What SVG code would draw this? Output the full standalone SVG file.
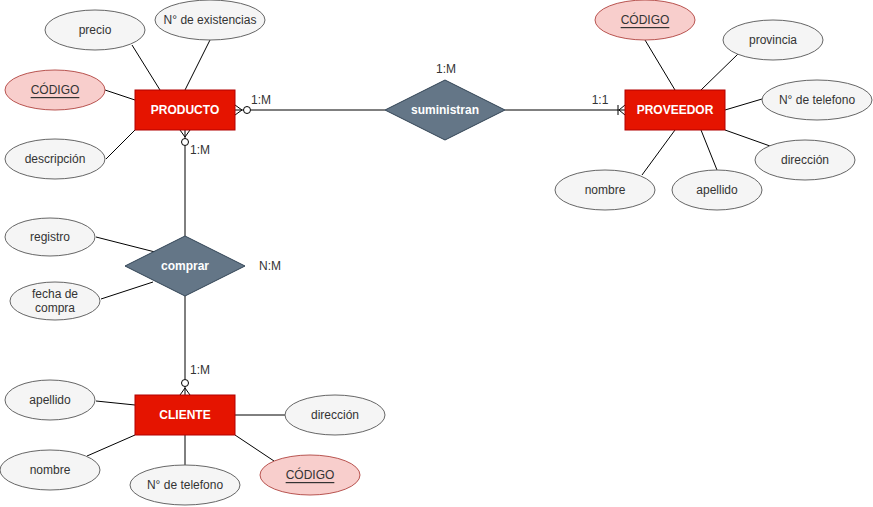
<svg xmlns="http://www.w3.org/2000/svg" width="873" height="507" viewBox="0 0 873 507">
  <style>
    text { font-family: "Liberation Sans", Arial, sans-serif; font-size: 12px; text-anchor: middle; dominant-baseline: central; }
    .ent rect { fill: #e51400; stroke: #b20000; stroke-width: 1; }
    .ent text { fill: #ffffff; font-weight: bold; }
    .rel polygon { fill: #647687; stroke: #314354; stroke-width: 1; }
    .rel text { fill: #ffffff; font-weight: bold; }
    .attr ellipse { fill: #f5f5f5; stroke: #666666; stroke-width: 1; }
    .attr text { fill: #333333; }
    .key ellipse { fill: #f8cecc; stroke: #b85450; stroke-width: 1; }
    .key text { fill: #333333; text-decoration: underline; }
    .edges line, .edges path { stroke: #000000; stroke-width: 1; fill: none; }
    .edges circle { fill: #ffffff; stroke: #000000; stroke-width: 1; }
    .card { fill: #333333; }
  </style>

  <!-- connectors -->
  <g id="connectors" class="edges">
    <!-- PRODUCTO attributes -->
    <line x1="132" y1="45" x2="160" y2="90"/>
    <line x1="210" y1="40" x2="185" y2="90"/>
    <line x1="105" y1="90" x2="135" y2="100"/>
    <line x1="106" y1="159" x2="135" y2="130"/>
    <!-- PRODUCTO - suministran - PROVEEDOR -->
    <line x1="251" y1="110" x2="385" y2="110"/>
    <path d="M235,105 L242,110 L235,115 M235,110 L243.5,110"/>
    <circle cx="247" cy="110" r="3.5"/>
    <line x1="505" y1="110" x2="625" y2="110"/>
    <path d="M625,105 L619,110 L625,115 M618,105 L618,115"/>
    <!-- PROVEEDOR attributes -->
    <line x1="645" y1="40" x2="675" y2="90"/>
    <line x1="738" y1="54" x2="701" y2="90"/>
    <line x1="762" y1="99" x2="725" y2="110"/>
    <line x1="770" y1="146" x2="725" y2="130"/>
    <line x1="717" y1="170" x2="701" y2="130"/>
    <line x1="642" y1="175" x2="675" y2="130"/>
    <!-- PRODUCTO - comprar - CLIENTE -->
    <line x1="185" y1="146" x2="185" y2="236"/>
    <path d="M180,130 L185,137 L190,130 M185,130 L185,138.5"/>
    <circle cx="185" cy="142" r="3.5"/>
    <line x1="185" y1="296" x2="185" y2="379"/>
    <path d="M180,395 L185,388 L190,395 M185,395 L185,386.5"/>
    <circle cx="185" cy="383" r="3.5"/>
    <!-- comprar attributes -->
    <line x1="96" y1="237" x2="155" y2="252"/>
    <line x1="101" y1="299" x2="153" y2="282"/>
    <!-- CLIENTE attributes -->
    <line x1="96" y1="401" x2="135" y2="405"/>
    <line x1="87" y1="456" x2="135" y2="435"/>
    <line x1="185" y1="435" x2="185" y2="465"/>
    <line x1="274" y1="461" x2="235" y2="435"/>
    <line x1="235" y1="415" x2="285" y2="415"/>
  </g>

  <!-- cardinality labels -->
  <g id="labels">
    <text class="card" x="261" y="100">1:M</text>
    <text class="card" x="200" y="150">1:M</text>
    <text class="card" x="446" y="69">1:M</text>
    <text class="card" x="600" y="100">1:1</text>
    <text class="card" x="270" y="266">N:M</text>
    <text class="card" x="200" y="370">1:M</text>
  </g>

  <!-- entities -->
  <g id="producto" class="ent">
    <rect x="135" y="90" width="100" height="40"/>
    <text x="185" y="110">PRODUCTO</text>
  </g>
  <g id="proveedor" class="ent">
    <rect x="625" y="90" width="100" height="40"/>
    <text x="675" y="110">PROVEEDOR</text>
  </g>
  <g id="cliente" class="ent">
    <rect x="135" y="395" width="100" height="40"/>
    <text x="185" y="415">CLIENTE</text>
  </g>

  <!-- relationships -->
  <g id="suministran" class="rel">
    <polygon points="445,80 505,110 445,140 385,110"/>
    <text x="445" y="110">suministran</text>
  </g>
  <g id="comprar" class="rel">
    <polygon points="185,236 245,266 185,296 125,266"/>
    <text x="185" y="266">comprar</text>
  </g>

  <!-- PRODUCTO attributes -->
  <g id="producto-precio" class="attr">
    <ellipse cx="95" cy="30" rx="50" ry="20"/>
    <text x="95" y="30">precio</text>
  </g>
  <g id="producto-existencias" class="attr">
    <ellipse cx="210" cy="20" rx="55" ry="20"/>
    <text x="210" y="20">N° de existencias</text>
  </g>
  <g id="producto-codigo" class="key">
    <ellipse cx="55" cy="90" rx="50" ry="20"/>
    <text x="55" y="90">CÓDIGO</text>
  </g>
  <g id="producto-descripcion" class="attr">
    <ellipse cx="55" cy="159" rx="50" ry="20"/>
    <text x="55" y="159">descripción</text>
  </g>

  <!-- PROVEEDOR attributes -->
  <g id="proveedor-codigo" class="key">
    <ellipse cx="645" cy="20" rx="50" ry="20"/>
    <text x="645" y="20">CÓDIGO</text>
  </g>
  <g id="proveedor-provincia" class="attr">
    <ellipse cx="773" cy="40" rx="50" ry="20"/>
    <text x="773" y="40">provincia</text>
  </g>
  <g id="proveedor-telefono" class="attr">
    <ellipse cx="817" cy="100" rx="55" ry="20"/>
    <text x="817" y="100">N° de telefono</text>
  </g>
  <g id="proveedor-direccion" class="attr">
    <ellipse cx="805" cy="160" rx="50" ry="20"/>
    <text x="805" y="160">dirección</text>
  </g>
  <g id="proveedor-apellido" class="attr">
    <ellipse cx="717" cy="190" rx="45" ry="20"/>
    <text x="717" y="190">apellido</text>
  </g>
  <g id="proveedor-nombre" class="attr">
    <ellipse cx="605" cy="190" rx="50" ry="20"/>
    <text x="605" y="190">nombre</text>
  </g>

  <!-- comprar attributes -->
  <g id="comprar-registro" class="attr">
    <ellipse cx="50" cy="237" rx="45" ry="19"/>
    <text x="50" y="237">registro</text>
  </g>
  <g id="comprar-fecha" class="attr">
    <ellipse cx="55" cy="301" rx="45" ry="19"/>
    <text x="55" y="294">fecha de</text>
    <text x="55" y="308">compra</text>
  </g>

  <!-- CLIENTE attributes -->
  <g id="cliente-apellido" class="attr">
    <ellipse cx="50" cy="400" rx="45" ry="20"/>
    <text x="50" y="400">apellido</text>
  </g>
  <g id="cliente-nombre" class="attr">
    <ellipse cx="50" cy="470" rx="50" ry="20"/>
    <text x="50" y="470">nombre</text>
  </g>
  <g id="cliente-telefono" class="attr">
    <ellipse cx="185" cy="485" rx="55" ry="20"/>
    <text x="185" y="485">N° de telefono</text>
  </g>
  <g id="cliente-codigo" class="key">
    <ellipse cx="310" cy="475" rx="50" ry="20"/>
    <text x="310" y="475">CÓDIGO</text>
  </g>
  <g id="cliente-direccion" class="attr">
    <ellipse cx="335" cy="415" rx="50" ry="20"/>
    <text x="335" y="415">dirección</text>
  </g>
</svg>
